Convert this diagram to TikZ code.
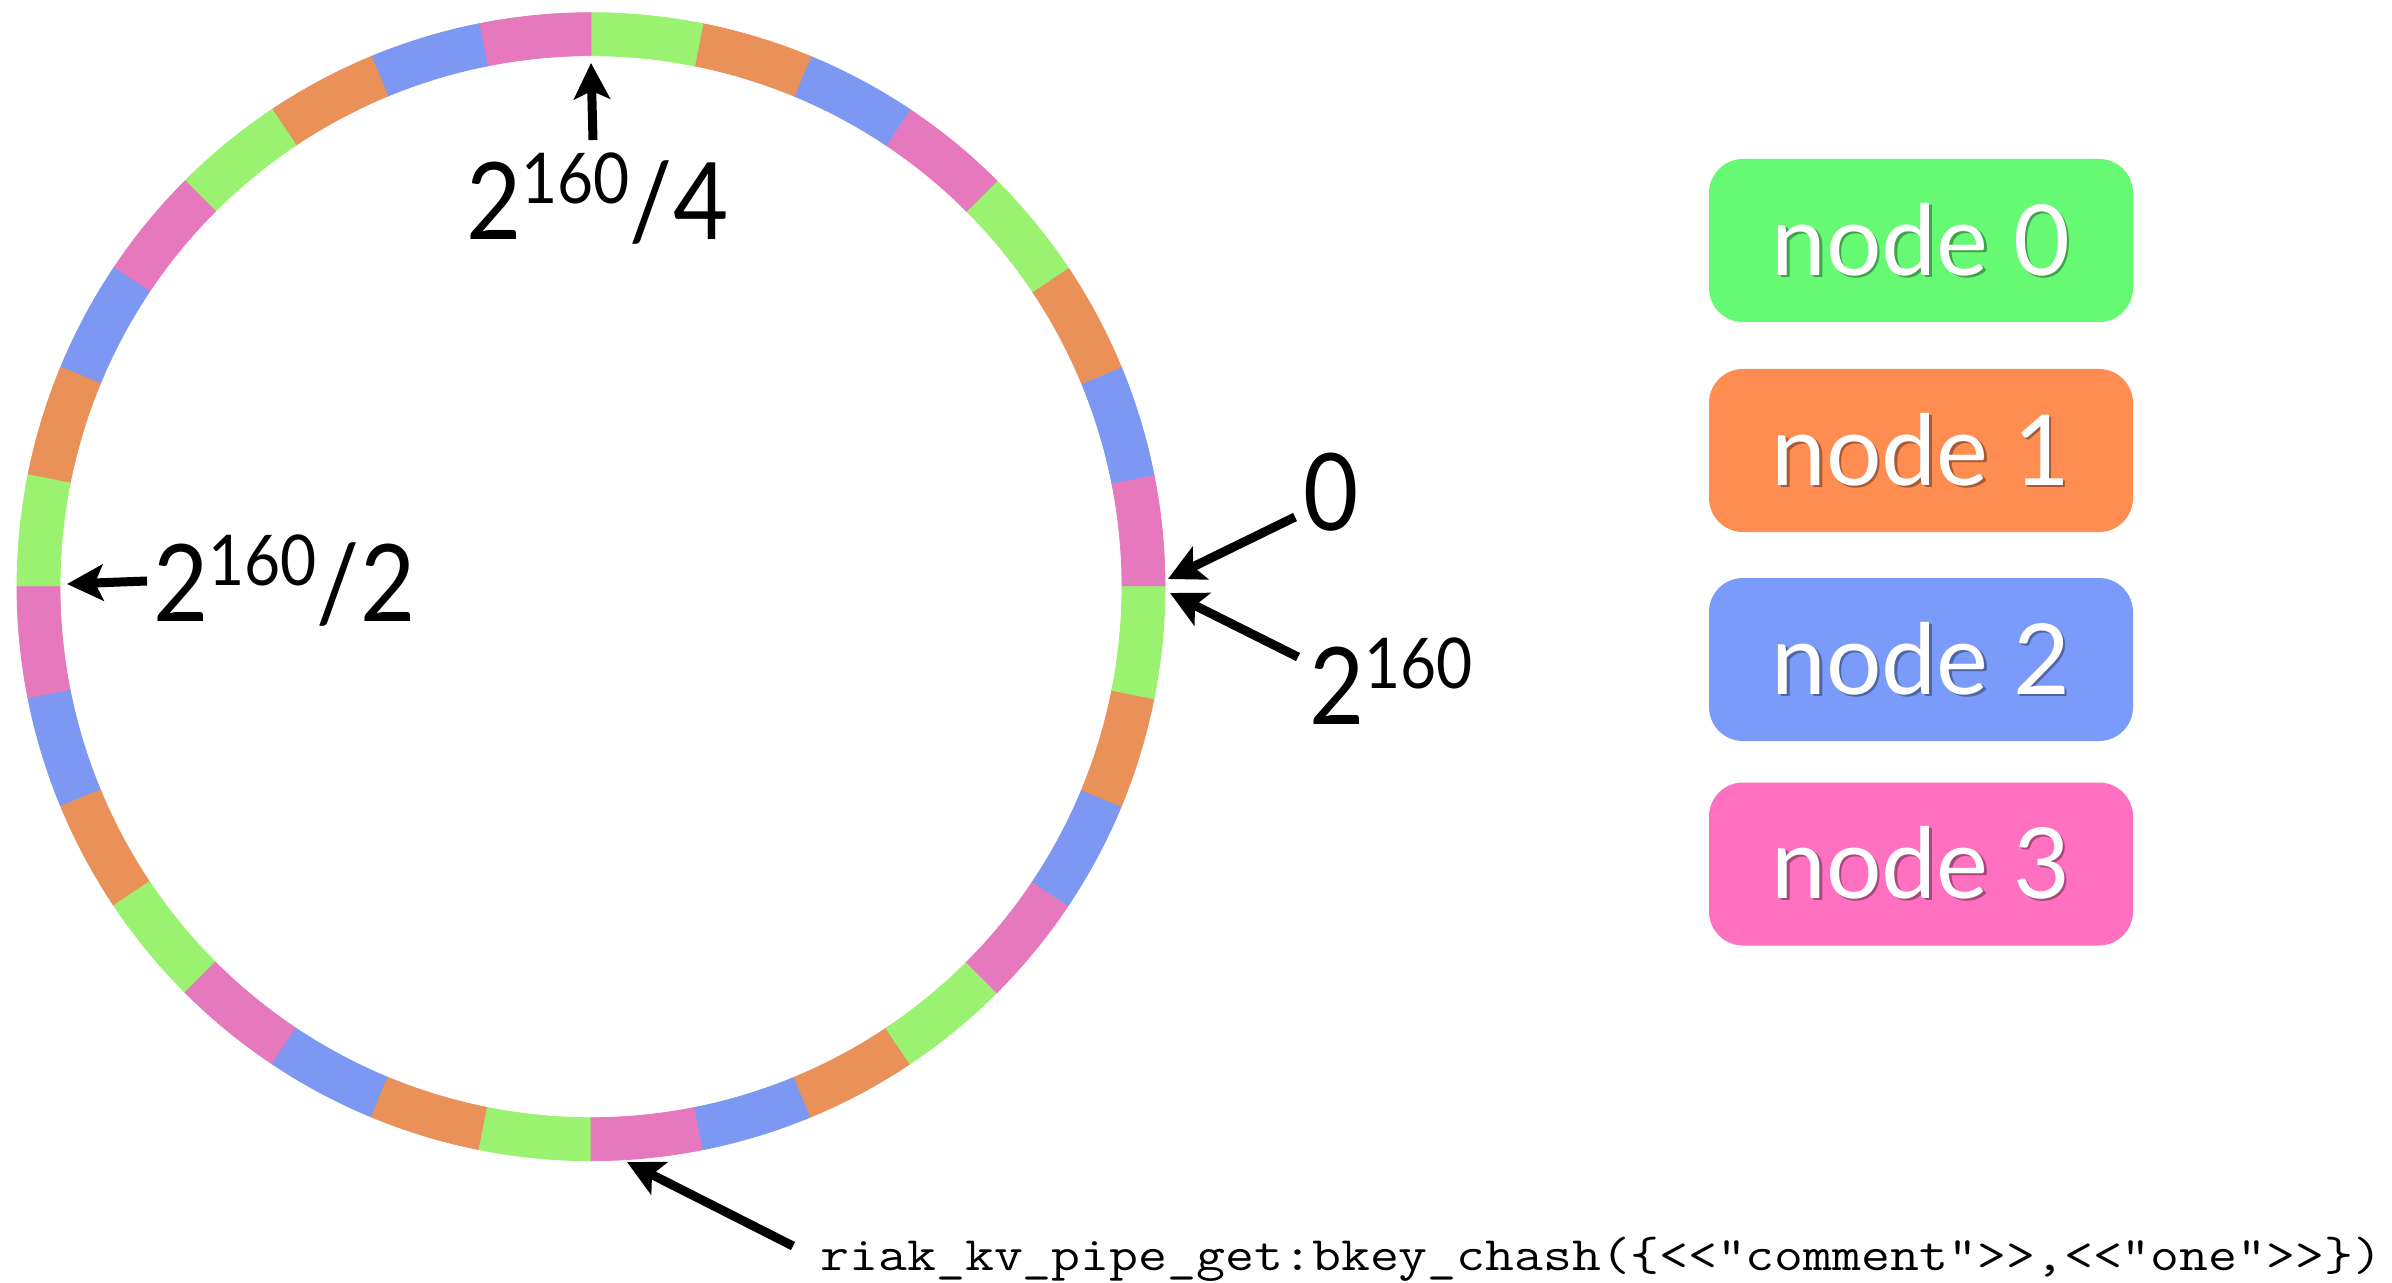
\documentclass[tikz,border=0pt]{standalone}
\usepackage{fontspec}
\setmainfont{Lato}
\usetikzlibrary{arrows.meta}
\definecolor{ring0}{RGB}{230,120,190}
\definecolor{ring1}{RGB}{124,152,242}
\definecolor{ring2}{RGB}{234,145,90}
\definecolor{ring3}{RGB}{155,242,112}
\definecolor{leg0}{RGB}{102,249,115}
\definecolor{leg1}{RGB}{255,140,80}
\definecolor{leg2}{RGB}{122,155,250}
\definecolor{leg3}{RGB}{255,112,192}
\newcommand\supnum[1]{\raisebox{18pt}{\fontsize{35}{40}\selectfont #1}}
\newcommand\shtext[2]{\makebox[0pt][l]{\hspace{1.2pt}\raisebox{-1.2pt}{\textcolor{#1}{#2}}}#2}
\begin{document}
\begin{tikzpicture}[x=0.5pt,y=-0.5pt,
  ptr/.style={line width=4.5pt,-{Stealth[length=18pt,width=18pt,inset=4pt]}},
  lbl/.style={inner sep=0pt,anchor=base west,xscale=0.89,font=\fontsize{53.5}{60}\selectfont},
  legendbox/.style={rounded corners=17pt,minimum width=212pt,minimum height=81.5pt,
    inner sep=0pt,font=\fontsize{49}{55}\selectfont,text=white},
]
\useasboundingbox[fill=white] (0,0) rectangle (2392,1283);
% ring
\begin{scope}[shift={(591,586.7)}]
\foreach \k in {0,...,31}{
  \pgfmathtruncatemacro\m{mod(\k,4)}
  \filldraw[ring\m,line width=0.4pt] (-\k*11.25:531)
    arc[start angle=-\k*11.25,delta angle=-11.25,radius=531]
    -- (-\k*11.25-11.25:574)
    arc[start angle=-\k*11.25-11.25,delta angle=11.25,radius=574] -- cycle;
}
\end{scope}
% labels
\node[lbl] (lTop) at (466,240) {2\supnum{160}/4};
\node[lbl] (lZero) at (1303,530) {0};
\node[lbl] (lMax) at (1309,724) {2\supnum{160}};
\node[lbl] (lHalf) at (153,621) {2\supnum{160}/2};
\node[inner sep=0pt,anchor=base west,font=\fontsize{24}{28}\ttfamily,xscale=1.17] (code) at (820,1270)
  {riak\_kv\_pipe\_get:bkey\_chash(\{<<"comment">>,<<"one">>\})};
% arrow ends
\coordinate (tTop) at (593,140);   \coordinate (hTop) at (591,63);
\coordinate (tZero) at (1295,517); \coordinate (hZero) at (1168,579);
\coordinate (tMax) at (1298,657);  \coordinate (hMax) at (1170,593);
\coordinate (tHalf) at (147,581);  \coordinate (hHalf) at (67,584);
\coordinate (tCode) at (793,1246); \coordinate (hCode) at (627,1162);
\draw[ptr] (tTop) -- (hTop);
\draw[ptr] (tZero) -- (hZero);
\draw[ptr] (tMax) -- (hMax);
\draw[ptr] (tHalf) -- (hHalf);
\draw[ptr] (tCode) -- (hCode);
% legend
\node[legendbox,fill=leg0] (n0) at (1921,240.5) {\shtext{leg0!65!black}{node 0}};
\node[legendbox,fill=leg1] (n1) at (1921,450.5) {\shtext{leg1!65!black}{node 1}};
\node[legendbox,fill=leg2] (n2) at (1921,659.5) {\shtext{leg2!65!black}{node 2}};
\node[legendbox,fill=leg3] (n3) at (1921,864) {\shtext{leg3!65!black}{node 3}};
\end{tikzpicture}
\end{document}
